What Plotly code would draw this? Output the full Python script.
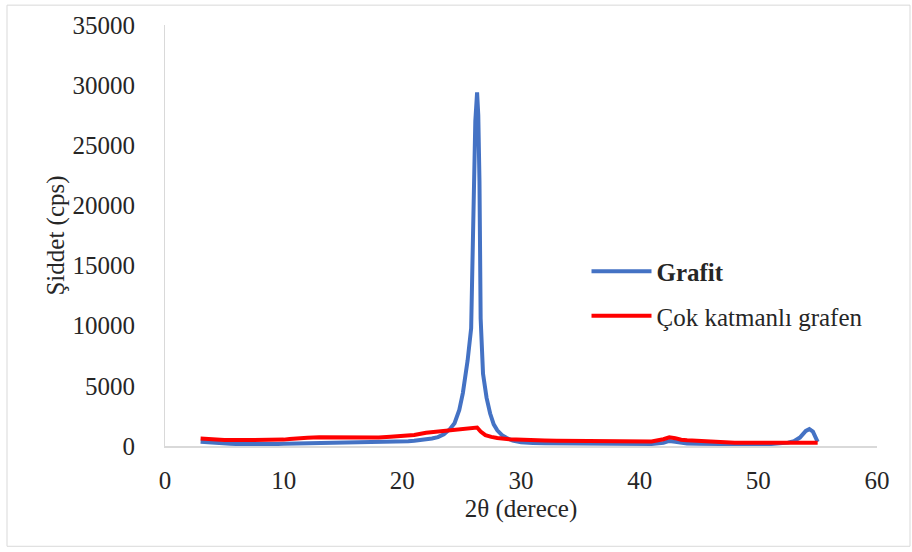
import plotly.graph_objects as go

# Grafit XRD pattern (2θ in degrees, intensity in cps)
grafit_2theta = [3.0, 3.5, 4.0, 4.5, 5.0, 5.5, 6.0, 6.5, 7.0, 7.5, 8.0, 8.5, 9.0, 9.5,
                 10.0, 10.5, 11.0, 11.5, 12.0, 12.5, 13.0, 13.5, 14.0, 14.5, 15.0, 15.5,
                 16.0, 16.5, 17.0, 17.5, 18.0, 18.5, 19.0, 19.5, 20.0, 20.5, 21.0, 21.5,
                 22.0, 22.5, 23.0, 23.5, 24.0, 24.4, 24.8, 25.1, 25.5, 25.8, 25.9, 26.0,
                 26.15, 26.3, 26.4, 26.5, 26.6, 26.8, 27.1, 27.4, 27.7, 28.0, 28.4, 28.8,
                 29.3, 30.0, 30.5, 31.0, 32.0, 33.0, 34.0, 35.0, 36.0, 37.0, 38.0, 39.0,
                 40.0, 41.0, 42.0, 42.5, 43.0, 43.5, 44.0, 45.0, 46.0, 47.0, 48.0, 49.0,
                 50.0, 51.0, 52.0, 52.5, 53.0, 53.5, 54.0, 54.3, 54.6, 54.8, 55.0]
grafit_cps = [350, 300, 250, 220, 200, 180, 170, 160, 170, 150, 160, 150, 160, 170,
              180, 190, 200, 190, 210, 200, 220, 210, 230, 220, 240, 230,
              250, 240, 260, 270, 280, 300, 320, 340, 370, 400, 440, 480,
              540, 620, 740, 980, 1400, 1900, 3000, 4400, 7100, 9800, 14800, 22000,
              27000, 29400, 27500, 22000, 10600, 6000, 4000, 2700, 1800, 1300, 900, 660,
              450, 320, 260, 240, 230, 220, 210, 220, 200, 210, 190, 180,
              150, 170, 260, 420, 360, 260, 200, 180, 160, 150, 140, 150,
              140, 160, 190, 280, 400, 700, 1250, 1400, 1200, 700, 350]

# Çok katmanlı grafen XRD pattern
grafen_2theta = [3.0, 3.5, 4.0, 4.5, 5.0, 6.0, 7.0, 8.0, 9.0, 10.0, 10.5, 11.0, 12.0,
                 13.0, 14.0, 15.0, 16.0, 17.0, 18.0, 19.0, 20.0, 21.0, 22.0, 22.5, 23.0,
                 23.5, 24.0, 24.5, 25.0, 25.5, 26.0, 26.3, 26.6, 27.0, 27.5, 28.0, 29.0,
                 30.0, 31.0, 32.0, 33.0, 34.0, 35.0, 36.0, 37.0, 38.0, 39.0, 40.0, 41.0,
                 42.0, 42.5, 43.0, 43.5, 44.0, 45.0, 46.0, 47.0, 48.0, 49.0, 50.0, 51.0,
                 52.0, 53.0, 54.0, 55.0]
grafen_cps = [620, 580, 540, 520, 500, 490, 480, 500, 510, 530, 580, 640, 680,
              720, 700, 730, 700, 720, 700, 760, 830, 920, 1100, 1150, 1200,
              1260, 1320, 1360, 1350, 1400, 1480, 1540, 1200, 900, 760, 660, 560,
              500, 470, 450, 430, 420, 400, 390, 380, 360, 350, 340, 380,
              560, 720, 650, 520, 480, 420, 330, 290, 270, 270, 260, 260,
              250, 260, 270, 280]

x_ticks = [0, 10, 20, 30, 40, 50, 60]
y_ticks = [0, 5000, 10000, 15000, 20000, 25000, 30000, 35000]
y_tick_labels = ["0", "5000", "10000", "15000", "20000", "25000", "30000", "35000"]

FONT = "'Times New Roman', 'Liberation Serif', 'DejaVu Serif', serif"
TEXT = "#262626"
AXIS = "#D9D9D9"
FS = 25

fig = go.Figure()
fig.add_trace(go.Scatter(x=grafit_2theta, y=grafit_cps, mode="lines",
                         name="<b>Grafit</b>", legendgroup="a",
                         line=dict(color="#4472C4", width=4)))
fig.add_trace(go.Scatter(x=grafen_2theta, y=grafen_cps, mode="lines",
                         name="Çok katmanlı grafen", legendgroup="b",
                         line=dict(color="#FF0000", width=4)))

# thin frame around the whole chart area
L, R, T, B = 165, 877, 22, 446
W, H = 912, 552
def px(x):
    return (x - L) / (R - L)
def py(y):
    return (B - y) / (B - T)
fig.add_shape(type="rect", xref="paper", yref="paper",
              x0=px(7), x1=px(910), y0=py(547), y1=py(2),
              line=dict(color="#D9D9D9", width=1), layer="below")

fig.update_layout(
    width=W, height=H,
    margin=dict(l=L, r=W - R, t=T, b=H - B),
    paper_bgcolor="white", plot_bgcolor="white",
    font=dict(family=FONT, size=FS, color=TEXT),
    showlegend=True,
    legend=dict(x=0.592, y=0.362, xanchor="left", yanchor="middle",
                bgcolor="rgba(0,0,0,0)", font=dict(family=FONT, size=FS, color=TEXT),
                tracegroupgap=9, itemwidth=60),
)
fig.update_xaxes(range=[0, 60], tickvals=x_ticks, showgrid=False, zeroline=False,
                 showline=True, linecolor=AXIS, linewidth=2, ticks="",
                 ticklabelstandoff=11, tickfont=dict(family=FONT, size=FS, color=TEXT),
                 title=dict(text="2θ (derece)", font=dict(family=FONT, size=FS, color=TEXT),
                            standoff=6))
fig.update_yaxes(range=[0, 35000], tickvals=y_ticks, ticktext=y_tick_labels,
                 showgrid=False, zeroline=False,
                 showline=True, linecolor=AXIS, linewidth=1, ticks="",
                 ticklabelstandoff=24, tickfont=dict(family=FONT, size=FS, color=TEXT),
                 title=dict(text="Şiddet (cps)", font=dict(family=FONT, size=FS, color=TEXT),
                            standoff=0))

fig.write_html("out.html")
